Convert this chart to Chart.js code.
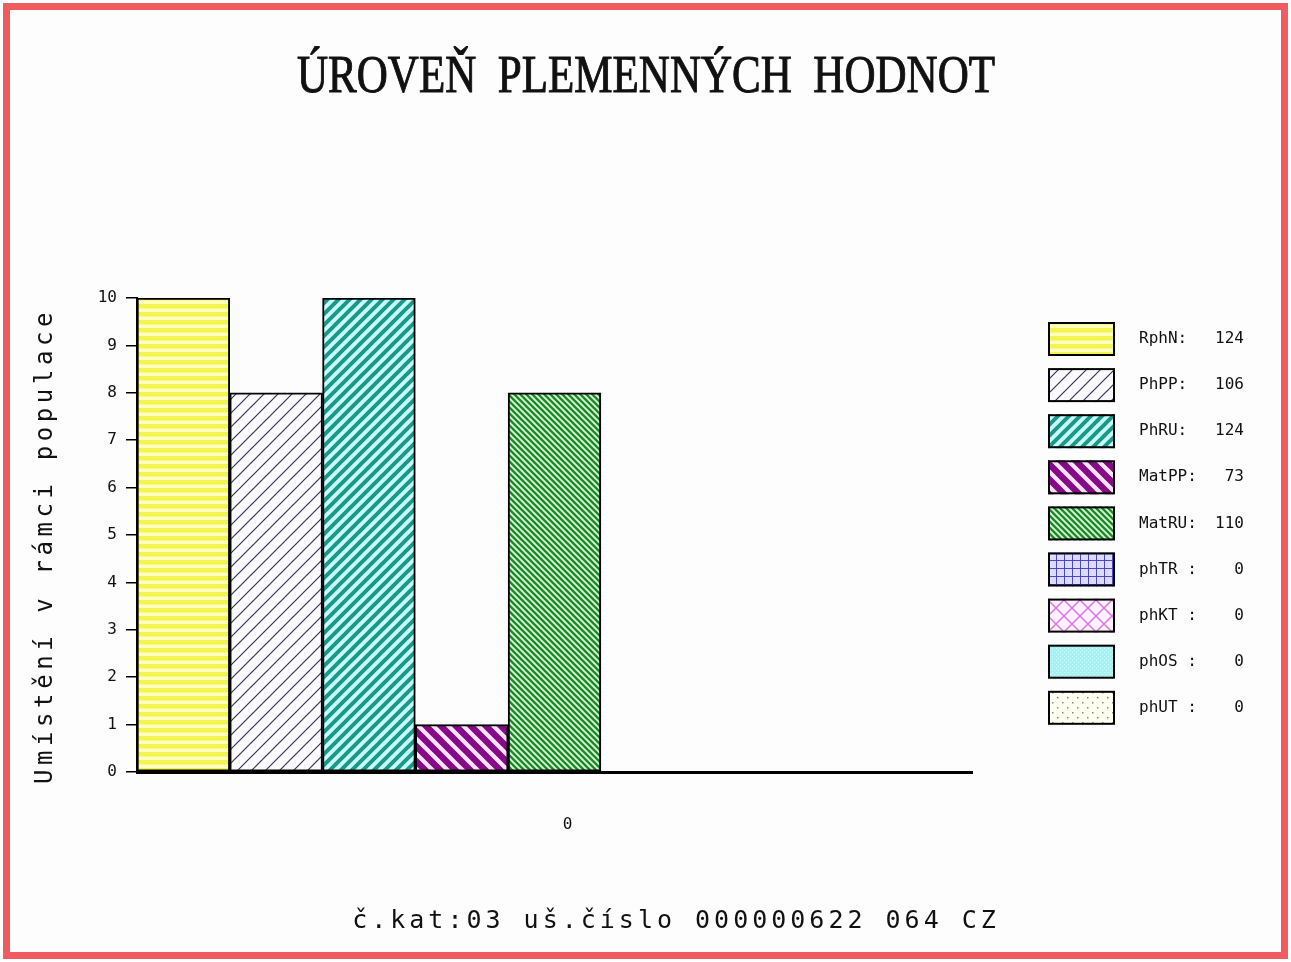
<!DOCTYPE html>
<html>
<head>
<meta charset="utf-8">
<title>Úroveň plemenných hodnot</title>
<script src="https://cdn.jsdelivr.net/npm/chart.js@4.4.1/dist/chart.umd.min.js"></script>
<style>
  html, body { margin: 0; padding: 0; background: #fff; }
  canvas { display: block; }
</style>
</head>
<body>
<canvas id="chart" width="1291" height="962"></canvas>
<script>
// Data
const categories = ['0'];
const seriesNames = ['RphN', 'PhPP', 'PhRU', 'MatPP', 'MatRU', 'phTR', 'phKT', 'phOS', 'phUT'];
const legendTexts = ['RphN:', 'PhPP:', 'PhRU:', 'MatPP:', 'MatRU:', 'phTR :', 'phKT :', 'phOS :', 'phUT :'];
const breedingValues = [124, 106, 124, 73, 110, 0, 0, 0, 0];
const ranks = [10, 8, 10, 1, 8, 0, 0, 0, 0];
const yMin = 0;
const yMax = 10;
const yStep = 1;

const titleText = 'ÚROVEŇ  PLEMENNÝCH  HODNOT';
const yTitle = 'Umístění v rámci populace';
const footerText = 'č.kat:03 uš.číslo 000000622 064 CZ';

// Hatch fills
function tile(size, bg, draw) {
  const c = document.createElement('canvas');
  c.width = size;
  c.height = size;
  const g = c.getContext('2d');
  g.fillStyle = bg;
  g.fillRect(0, 0, size, size);
  draw(g, size);
  return g.createPattern(c, 'repeat');
}

// 45 degree lines, drawn past the tile edges so the tiles join without gaps
function diag(g, s, color, width, dir, shift = 0) {
  g.strokeStyle = color;
  g.lineWidth = width;
  g.beginPath();
  for (let k = -2; k <= 2; k++) {
    const x = k * s + shift;
    if (dir === '/') { g.moveTo(x - s, 2 * s); g.lineTo(x + 2 * s, -s); }
    else { g.moveTo(x - s, -s); g.lineTo(x + 2 * s, 2 * s); }
  }
  g.stroke();
}

const fills = [
  tile(8, '#ffffc0', (g) => { g.fillStyle = '#f4f450'; g.fillRect(0, 0, 8, 4.5); }),
  tile(14, '#fafaff', (g, s) => diag(g, s, '#34345a', 1.2, '/')),
  tile(11, '#c8ffff', (g, s) => diag(g, s, '#1c9888', 4, '/')),
  tile(15, '#ffe4ff', (g, s) => diag(g, s, '#860a86', 6.5, '\\')),
  tile(6, '#a8e0a0', (g, s) => { diag(g, s, '#17872a', 2.2, '\\'); diag(g, s, '#e6f8e0', 1.1, '\\', 3); }),
  tile(8, '#dcdcff', (g) => {
    g.strokeStyle = '#4a4ac8'; g.lineWidth = 1;
    g.beginPath(); g.moveTo(0.5, 0); g.lineTo(0.5, 8); g.moveTo(0, 0.5); g.lineTo(8, 0.5); g.stroke();
  }),
  tile(16, '#fff0ff', (g, s) => { diag(g, s, '#d67ad6', 1.5, '/'); diag(g, s, '#d67ad6', 1.5, '\\'); }),
  tile(4, '#a6f2f2', (g) => { g.fillStyle = '#cffafa'; g.fillRect(0, 0, 1, 1); g.fillRect(2, 2, 1, 1); }),
  tile(10, '#fffff2', (g) => { g.fillStyle = '#8a8a7a'; g.fillRect(2, 2, 1.5, 1.5); g.fillRect(7, 7, 1.5, 1.5); })
];

// Frame, title, axis caption, footer and legend
const decor = {
  id: 'decor',
  beforeDraw(chart) {
    const c = chart.ctx;
    c.save();
    c.fillStyle = '#fdfdfd';
    c.fillRect(6, 6, 1279, 950);
    c.strokeStyle = '#ef5b5f';
    c.lineWidth = 7;
    c.strokeRect(6.5, 6.5, 1278, 949);
    c.restore();
  },
  afterDraw(chart) {
    const c = chart.ctx;

    c.save();
    c.fillStyle = '#111';
    c.strokeStyle = '#111';
    c.lineWidth = 1;
    c.font = '52px "Liberation Serif"';
    c.textAlign = 'center';
    c.textBaseline = 'alphabetic';
    const tw = c.measureText(titleText).width;
    c.translate(646, 92);
    c.scale(698 / tw, 1);
    c.fillText(titleText, 0, 0);
    c.strokeText(titleText, 0, 0);
    c.restore();

    c.save();
    c.fillStyle = '#111';
    c.font = '24px "DejaVu Sans Mono"';
    c.letterSpacing = '4.6px';
    c.textAlign = 'center';
    c.textBaseline = 'middle';
    c.translate(46, 546);
    c.rotate(-Math.PI / 2);
    c.fillText(yTitle, 0, 0);
    c.restore();

    c.save();
    c.fillStyle = '#111';
    c.font = '25px "DejaVu Sans Mono"';
    c.letterSpacing = '4px';
    c.textAlign = 'center';
    c.textBaseline = 'middle';
    c.fillText(footerText, 676, 921);
    c.restore();

    c.save();
    c.font = '16px "DejaVu Sans Mono"';
    c.textBaseline = 'middle';
    chart.data.datasets.forEach((ds, i) => {
      const y = 322 + i * 46.1;
      c.fillStyle = ds.backgroundColor;
      c.fillRect(1048, y, 67, 34);
      c.strokeStyle = '#000';
      c.lineWidth = 2;
      c.strokeRect(1049, y + 1, 65, 32);
      c.fillStyle = '#111';
      c.textAlign = 'left';
      c.fillText(legendTexts[i], 1139, y + 17);
      c.textAlign = 'right';
      c.fillText(String(breedingValues[i]), 1244, y + 17);
    });
    c.restore();
  }
};

const tickFont = { family: 'DejaVu Sans Mono', size: 16 };

new Chart(document.getElementById('chart'), {
  type: 'bar',
  data: {
    labels: categories,
    datasets: seriesNames.map((name, i) => ({
      label: name,
      data: [ranks[i]],
      backgroundColor: fills[i],
      borderColor: '#000',
      borderWidth: 2,
      borderSkipped: false,
      categoryPercentage: 1,
      barPercentage: 1
    }))
  },
  options: {
    responsive: false,
    animation: false,
    layout: { padding: { top: 298, right: 319, bottom: 110, left: 0 } },
    plugins: {
      legend: { display: false },
      tooltip: { enabled: false }
    },
    scales: {
      x: {
        grid: { display: false, drawTicks: false },
        border: { display: true, color: '#000', width: 3, z: 1 },
        ticks: { padding: 43, labelOffset: 13, color: '#111', font: tickFont },
        afterFit(scale) { scale.height = 80; }
      },
      y: {
        min: yMin,
        max: yMax,
        ticks: { stepSize: yStep, padding: 9, color: '#111', font: tickFont },
        grid: { drawOnChartArea: false, drawTicks: true, tickLength: 11, color: '#000', lineWidth: 1.5 },
        border: { color: '#000', width: 2, z: 1 },
        afterFit(scale) { scale.width = 137; }
      }
    }
  },
  plugins: [decor]
});
</script>
</body>
</html>
